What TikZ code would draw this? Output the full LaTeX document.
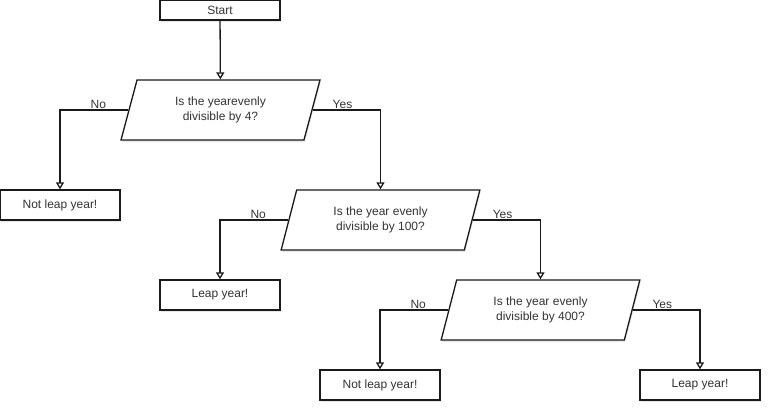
\documentclass[tikz,border=0pt]{standalone}
\usepackage{fontspec}
\setmainfont{Liberation Sans}
\usepackage{tikz}
\usetikzlibrary{arrows.meta,positioning,shapes.geometric,shadows}
\definecolor{lytext}{HTML}{333333}
\definecolor{lyline}{HTML}{1A1A1A}
\tikzset{
  stepbox/.style={draw=lyline, line width=1.3pt, fill=white, text=lytext,
    minimum width=120pt, minimum height=30pt, inner sep=0pt,
    drop shadow={opacity=0.18, shadow xshift=1pt, shadow yshift=-2pt}},
  test/.style={trapezium, trapezium left angle=71.6, trapezium right angle=108.4,
    trapezium stretches=true, draw=lyline, line width=1.3pt, fill=white,
    text=lytext, align=center, minimum width=199pt, minimum height=60pt,
    inner sep=0pt, font=\fontsize{12}{15}\selectfont,
    drop shadow={opacity=0.18, shadow xshift=1pt, shadow yshift=-2pt}},
  arr/.style={-{Triangle[open, length=7pt, width=8pt]}, line width=1.3pt, lyline},
  lbl/.style={above, inner sep=1pt, text=lytext},
}

\begin{document}
\begin{tikzpicture}[x=1pt, y=-1pt, font=\fontsize{12}{14}\selectfont]
    \useasboundingbox (0,0) rectangle (772,412);
    % start and the three tests
    \node[stepbox, minimum height=20pt] (start) at (220,10) {Start};
    \node[test] (by4) at (220.5,110) {Is the yearevenly\\divisible by 4?};
    \node[test] (by100) at (380.5,220) {Is the year evenly\\ divisible by 100?};
    \node[test] (by400) at (540.5,310) {Is the year evenly\\ divisible by 400?};
    % answers
    \node[stepbox] (notleapA) at (60,205) {Not leap year!};
    \node[stepbox] (leapA) at (220,295) {Leap year!};
    \node[stepbox] (notleapB) at (380,385) {Not leap year!};
    \node[stepbox] (leapB) at (700,385) {Leap year!};
    % connectors
    \draw[arr] (start) -- (by4);
    \draw[arr] (by4.left side) -| node[lbl, pos=0.22] {No} (notleapA);
    \draw[arr] (by4.right side) -| node[lbl, pos=0.22] {Yes} (by100);
    \draw[arr] (by100.left side) -| node[lbl, pos=0.22] {No} (leapA);
    \draw[arr] (by100.right side) -| node[lbl, pos=0.22] {Yes} (by400);
    \draw[arr] (by400.left side) -| node[lbl, pos=0.22] {No} (notleapB);
    \draw[arr] (by400.right side) -| node[lbl, pos=0.22] {Yes} (leapB);
\end{tikzpicture}
\end{document}
